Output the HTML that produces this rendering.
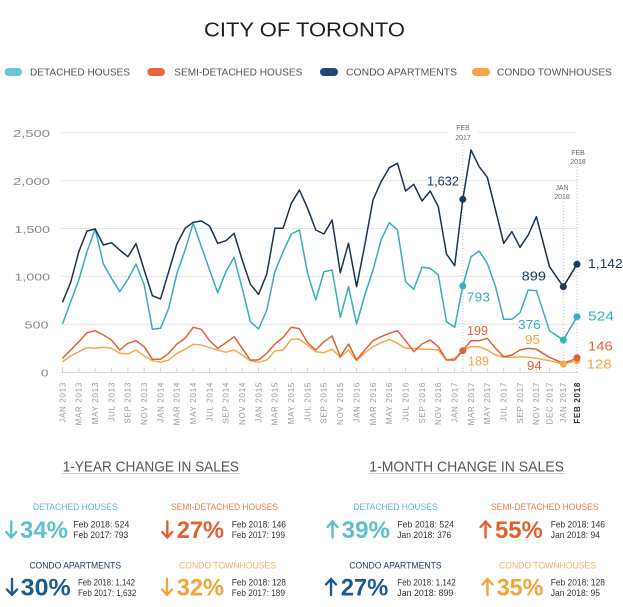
<!DOCTYPE html>
<html><head><meta charset="utf-8"><style>
html,body{margin:0;padding:0;background:#fff;}
svg{display:block;font-family:"Liberation Sans",sans-serif;}
</style></head><body>
<svg width="623" height="607" viewBox="0 0 623 607" xmlns="http://www.w3.org/2000/svg">
<rect width="623" height="607" fill="#fff"/>
<!-- Title -->
<text x="204" y="36.7" font-size="20.5" fill="#1e1e1e" textLength="201" lengthAdjust="spacingAndGlyphs">CITY OF TORONTO</text>
<!-- Legend -->
<rect x="4.5" y="68" width="17.5" height="8" rx="4" fill="#6cc4d4"/>
<text x="30" y="75.5" font-size="10" fill="#555" textLength="100" lengthAdjust="spacingAndGlyphs">DETACHED HOUSES</text>
<rect x="147.3" y="68" width="17.7" height="8" rx="4" fill="#ec6540"/>
<text x="174.3" y="75.5" font-size="10" fill="#555" textLength="128" lengthAdjust="spacingAndGlyphs">SEMI-DETACHED HOUSES</text>
<rect x="320" y="68" width="18" height="8" rx="4" fill="#1d4a73"/>
<text x="346" y="75.5" font-size="10" fill="#555" textLength="111" lengthAdjust="spacingAndGlyphs">CONDO APARTMENTS</text>
<rect x="472" y="68" width="18" height="8" rx="4" fill="#f2a742"/>
<text x="497" y="75.5" font-size="10" fill="#555" textLength="115" lengthAdjust="spacingAndGlyphs">CONDO TOWNHOUSES</text>

<!-- Gridlines -->
<g stroke="#e6e6e6" stroke-width="1">
<line x1="61" y1="132.7" x2="577" y2="132.7"/>
<line x1="61" y1="180.7" x2="577" y2="180.7"/>
<line x1="61" y1="228.5" x2="577" y2="228.5"/>
<line x1="61" y1="276.4" x2="577" y2="276.4"/>
<line x1="61" y1="324.3" x2="577" y2="324.3"/>
</g>
<line x1="61" y1="372.5" x2="578" y2="372.5" stroke="#dcdcdc" stroke-width="1"/>
<!-- Y labels -->
<g font-size="10.5" fill="#8a8a8a" text-anchor="end">
<text x="50" y="137" textLength="37" lengthAdjust="spacingAndGlyphs">2,500</text>
<text x="50" y="185" textLength="37" lengthAdjust="spacingAndGlyphs">2,000</text>
<text x="50" y="232.8" textLength="35.5" lengthAdjust="spacingAndGlyphs">1,500</text>
<text x="50" y="280.7" textLength="35.5" lengthAdjust="spacingAndGlyphs">1,000</text>
<text x="48.5" y="328.5" textLength="24" lengthAdjust="spacingAndGlyphs">500</text>
<text x="48.5" y="376.3" textLength="7.6" lengthAdjust="spacingAndGlyphs">0</text>
</g>

<!-- Ticks -->
<g stroke="#d4d4d4" stroke-width="1">
<line x1="62.5" y1="367.5" x2="62.5" y2="372.5"/><line x1="78.8" y1="367.5" x2="78.8" y2="372.5"/><line x1="95.2" y1="367.5" x2="95.2" y2="372.5"/><line x1="111.5" y1="367.5" x2="111.5" y2="372.5"/><line x1="127.9" y1="367.5" x2="127.9" y2="372.5"/><line x1="144.2" y1="367.5" x2="144.2" y2="372.5"/><line x1="160.5" y1="367.5" x2="160.5" y2="372.5"/><line x1="176.9" y1="367.5" x2="176.9" y2="372.5"/><line x1="193.2" y1="367.5" x2="193.2" y2="372.5"/><line x1="209.6" y1="367.5" x2="209.6" y2="372.5"/><line x1="225.9" y1="367.5" x2="225.9" y2="372.5"/><line x1="242.2" y1="367.5" x2="242.2" y2="372.5"/><line x1="258.6" y1="367.5" x2="258.6" y2="372.5"/><line x1="274.9" y1="367.5" x2="274.9" y2="372.5"/><line x1="291.3" y1="367.5" x2="291.3" y2="372.5"/><line x1="307.6" y1="367.5" x2="307.6" y2="372.5"/><line x1="323.9" y1="367.5" x2="323.9" y2="372.5"/><line x1="340.3" y1="367.5" x2="340.3" y2="372.5"/><line x1="356.6" y1="367.5" x2="356.6" y2="372.5"/><line x1="373" y1="367.5" x2="373" y2="372.5"/><line x1="389.3" y1="367.5" x2="389.3" y2="372.5"/><line x1="405.6" y1="367.5" x2="405.6" y2="372.5"/><line x1="422" y1="367.5" x2="422" y2="372.5"/><line x1="438.3" y1="367.5" x2="438.3" y2="372.5"/><line x1="454.7" y1="367.5" x2="454.7" y2="372.5"/><line x1="471" y1="367.5" x2="471" y2="372.5"/><line x1="487.3" y1="367.5" x2="487.3" y2="372.5"/><line x1="503.7" y1="367.5" x2="503.7" y2="372.5"/><line x1="520" y1="367.5" x2="520" y2="372.5"/><line x1="536.4" y1="367.5" x2="536.4" y2="372.5"/><line x1="549.5" y1="367.5" x2="549.5" y2="372.5"/>
</g>

<!-- Dotted vertical markers -->
<rect x="448" y="122" width="30" height="21" fill="#fff"/>
<g stroke="#bdbdbd" stroke-width="1" stroke-dasharray="1,2">
<line x1="462.8" y1="143" x2="462.8" y2="372"/>
<line x1="563.3" y1="202" x2="563.3" y2="372"/>
<line x1="577" y1="167" x2="577" y2="372"/>
</g>
<g font-size="7" fill="#666" text-anchor="middle">
<text x="463" y="130">FEB</text><text x="463" y="140">2017</text>
<text x="578" y="155">FEB</text><text x="578" y="164">2018</text>
<text x="562" y="190">JAN</text><text x="562" y="199">2018</text>
</g>

<!-- Series -->
<g fill="none" stroke-width="1.5" stroke-linejoin="round">
<polyline stroke="#f2ab4c" points="62.5,361.7 70.7,356 78.8,351.7 87,347.7 95.2,348.3 103.4,347.3 111.5,348.3 119.7,353.3 127.9,354 136,350 144.2,356 152.4,360.7 160.5,362.3 168.7,360 176.9,353.3 185.1,349.3 193.2,344.3 201.4,345 209.6,347.7 217.7,350 225.9,352.3 234.1,350 242.2,355 250.4,360.7 258.6,362.3 266.8,360 274.9,351 283.1,350 291.3,339.3 299.4,339.3 307.6,345.3 315.8,351.7 323.9,352.7 332.1,349.3 340.3,357.3 348.5,350 356.6,360.7 364.8,352.7 373,346.7 381.1,342.7 389.3,339.3 397.5,343.3 405.6,348.3 413.8,348.3 422,349.3 430.2,349.3 438.3,350 446.5,360 454.7,358.3 462.8,350 471,346.7 479.2,346.7 487.3,350 495.5,355 503.7,357.3 511.9,357.3 520,356.7 528.2,357.3 536.4,358.3 549.5,360.7 563.3,364 577,360.7"/>
<polyline stroke="#e0603a" points="62.5,358.3 70.7,350 78.8,341.7 87,332.7 95.2,330.7 103.4,335 111.5,340 119.7,350 127.9,343.3 136,340.7 144.2,346.7 152.4,359.3 160.5,359.3 168.7,353.3 176.9,344 185.1,338.3 193.2,327.3 201.4,329.3 209.6,340.7 217.7,348.3 225.9,342.7 234.1,336.7 242.2,348.3 250.4,360 258.6,360 266.8,353.3 274.9,344 283.1,337.3 291.3,327.3 299.4,328.7 307.6,342.7 315.8,350 323.9,341.7 332.1,336 340.3,356.7 348.5,344 356.6,360 364.8,350 373,340.7 381.1,336.7 389.3,333.3 397.5,330.7 405.6,340.7 413.8,351.7 422,344 430.2,340 438.3,346.7 446.5,360 454.7,360 462.8,350.7 471,340.7 479.2,340.7 487.3,338.3 495.5,348.3 503.7,356.7 511.9,355 520,350 528.2,348.3 536.4,349.3 549.5,357.3 563.3,363.3 577,358.3"/>
<polyline stroke="#36adbb" points="62.5,324 70.7,301.7 78.8,280 87,251.7 95.2,229 103.4,264 111.5,278.3 119.7,291.7 127.9,279.3 136,264 144.2,285 152.4,329.3 160.5,328.3 168.7,308.3 176.9,273.3 185.1,250 193.2,223.3 201.4,246.7 209.6,270 217.7,292.7 225.9,271.7 234.1,257.3 242.2,288.3 250.4,321.7 258.6,329 266.8,310 274.9,271.7 283.1,251.7 291.3,234 299.4,230 307.6,273.3 315.8,300 323.9,271.7 332.1,270 340.3,317.3 348.5,286.7 356.6,324 364.8,295 373,270 381.1,240 389.3,222.7 397.5,230 405.6,281.7 413.8,289.3 422,267.3 430.2,268.3 438.3,275 446.5,321.7 454.7,327.3 462.8,286 471,256.7 479.2,251 487.3,263.3 495.5,286.7 503.7,319.3 511.9,319.3 520,312.7 528.2,290 536.4,290.7 549.5,330.7 563.3,340 577,316.7"/>
<polyline stroke="#1a3350" points="62.5,302.3 70.7,282.3 78.8,251.7 87,231 95.2,229 103.4,245 111.5,242.7 119.7,250 127.9,256.7 136,243.7 144.2,270 152.4,295.7 160.5,299 168.7,271.7 176.9,244 185.1,228.3 193.2,222.3 201.4,221 209.6,226 217.7,243.3 225.9,240.7 234.1,233.3 242.2,260 250.4,284.3 258.6,294.3 266.8,274 274.9,228.3 283.1,228.3 291.3,203.3 299.4,190 307.6,208.3 315.8,230 323.9,234 332.1,220 340.3,272.7 348.5,243.3 356.6,286.7 364.8,245 373,200 381.1,181.7 389.3,167.7 397.5,163.3 405.6,191 413.8,184.3 422,201 430.2,191 438.3,206.7 446.5,254 454.7,265.7 462.8,199.3 471,150 479.2,166.7 487.3,177.3 495.5,210 503.7,243.3 511.9,231.7 520,247.3 528.2,235 536.4,216.7 549.5,266.7 563.3,286.7 577,264.3"/>
</g>
<!-- Dots -->
<g>
<circle cx="462.8" cy="199.3" r="3.5" fill="#1b3a5c"/>
<circle cx="563.3" cy="286.7" r="3.5" fill="#1b3a5c"/>
<circle cx="577" cy="264.3" r="3.5" fill="#1b3a5c"/>
<circle cx="462.8" cy="286" r="3.5" fill="#36b3c0"/>
<circle cx="563.3" cy="340" r="3.5" fill="#36b3c0"/>
<circle cx="577" cy="316.7" r="3.5" fill="#36b3c0"/>
<circle cx="462.8" cy="350.7" r="3.5" fill="#e2603a"/>
<circle cx="577" cy="361" r="3.2" fill="#f2ab4c"/>
<circle cx="577" cy="357.8" r="3.5" fill="#e2603a"/>
<circle cx="563.3" cy="364" r="3.5" fill="#f2ab4c"/>
</g>
<!-- Value labels -->
<g font-size="12.5">
<text x="427" y="185.5" fill="#1d3a5a" textLength="32" lengthAdjust="spacingAndGlyphs">1,632</text>
<text x="466.7" y="301.7" fill="#36adbb" textLength="23.3" lengthAdjust="spacingAndGlyphs">793</text>
<text x="521.7" y="280.7" fill="#1d3a5a" textLength="24.3" lengthAdjust="spacingAndGlyphs">899</text>
<text x="588" y="268" fill="#1d3a5a" textLength="34.7" lengthAdjust="spacingAndGlyphs">1,142</text>
<text x="588" y="320.7" fill="#36adbb" textLength="26" lengthAdjust="spacingAndGlyphs">524</text>
<text x="518" y="329" fill="#36adbb" textLength="22.7" lengthAdjust="spacingAndGlyphs">376</text>
<text x="467" y="335" fill="#e2603a" textLength="21" lengthAdjust="spacingAndGlyphs">199</text>
<text x="525" y="344" fill="#f0a540" textLength="15" lengthAdjust="spacingAndGlyphs">95</text>
<text x="588" y="350.7" fill="#e2603a" textLength="24.7" lengthAdjust="spacingAndGlyphs">146</text>
<text x="468" y="365.7" fill="#f0a540" textLength="21" lengthAdjust="spacingAndGlyphs">189</text>
<text x="527" y="370" fill="#e2603a" textLength="14.7" lengthAdjust="spacingAndGlyphs">94</text>
<text x="586.7" y="368.7" fill="#f0a540" textLength="25" lengthAdjust="spacingAndGlyphs">128</text>
</g>

<!-- X labels -->
<g font-size="8" fill="#9a9a9a" text-anchor="end" letter-spacing="0.7">
<text transform="translate(65.3,382) rotate(-90)">JAN 2013</text>
<text transform="translate(81.6,382) rotate(-90)">MAR 2013</text>
<text transform="translate(98,382) rotate(-90)">MAY 2013</text>
<text transform="translate(114.3,382) rotate(-90)">JUL 2013</text>
<text transform="translate(130.7,382) rotate(-90)">SEP 2013</text>
<text transform="translate(147,382) rotate(-90)">NOV 2013</text>
<text transform="translate(163.3,382) rotate(-90)">JAN 2014</text>
<text transform="translate(179.7,382) rotate(-90)">MAR 2014</text>
<text transform="translate(196,382) rotate(-90)">MAY 2014</text>
<text transform="translate(212.4,382) rotate(-90)">JUL 2014</text>
<text transform="translate(228.7,382) rotate(-90)">SEP 2014</text>
<text transform="translate(245,382) rotate(-90)">NOV 2014</text>
<text transform="translate(261.4,382) rotate(-90)">JAN 2015</text>
<text transform="translate(277.7,382) rotate(-90)">MAR 2015</text>
<text transform="translate(294.1,382) rotate(-90)">MAY 2015</text>
<text transform="translate(310.4,382) rotate(-90)">JUL 2015</text>
<text transform="translate(326.7,382) rotate(-90)">SEP 2015</text>
<text transform="translate(343.1,382) rotate(-90)">NOV 2015</text>
<text transform="translate(359.4,382) rotate(-90)">JAN 2016</text>
<text transform="translate(375.8,382) rotate(-90)">MAR 2016</text>
<text transform="translate(392.1,382) rotate(-90)">MAY 2016</text>
<text transform="translate(408.4,382) rotate(-90)">JUL 2016</text>
<text transform="translate(424.8,382) rotate(-90)">SEP 2016</text>
<text transform="translate(441.1,382) rotate(-90)">NOV 2016</text>
<text transform="translate(457.5,382) rotate(-90)">JAN 2017</text>
<text transform="translate(473.8,382) rotate(-90)">MAR 2017</text>
<text transform="translate(490.1,382) rotate(-90)">MAY 2017</text>
<text transform="translate(506.5,382) rotate(-90)">JUL 2017</text>
<text transform="translate(522.8,382) rotate(-90)">SEP 2017</text>
<text transform="translate(539.2,382) rotate(-90)">NOV 2017</text>
<text transform="translate(552.3,382) rotate(-90)">DEC 2017</text>
<text transform="translate(566.1,382) rotate(-90)">JAN 2017</text>
<text transform="translate(579.8,382) rotate(-90)" font-weight="bold" fill="#333">FEB 2018</text>
</g>

<!-- Section headings -->
<text x="62.7" y="471.5" font-size="15" fill="#555" textLength="176.3" lengthAdjust="spacingAndGlyphs">1-YEAR CHANGE IN SALES</text>
<line x1="62" y1="473.5" x2="239.5" y2="473.5" stroke="#cfcfcf" stroke-width="1"/>
<text x="369.3" y="471.5" font-size="15" fill="#555" textLength="194.7" lengthAdjust="spacingAndGlyphs">1-MONTH CHANGE IN SALES</text>
<line x1="369" y1="473.5" x2="564.5" y2="473.5" stroke="#cfcfcf" stroke-width="1"/>

<!-- Category titles -->
<g font-size="9.5" text-anchor="middle">
<text x="75.3" y="510" fill="#5bbccb" textLength="84.7" lengthAdjust="spacingAndGlyphs">DETACHED HOUSES</text>
<text x="224.5" y="510" fill="#ec7a55" textLength="107" lengthAdjust="spacingAndGlyphs">SEMI-DETACHED HOUSES</text>
<text x="75.2" y="568.3" fill="#1d3b5c" textLength="91.7" lengthAdjust="spacingAndGlyphs">CONDO APARTMENTS</text>
<text x="227.5" y="568.3" fill="#f3b46a" textLength="97" lengthAdjust="spacingAndGlyphs">CONDO TOWNHOUSES</text>
<text x="395.5" y="510" fill="#5bbccb" textLength="84.4" lengthAdjust="spacingAndGlyphs">DETACHED HOUSES</text>
<text x="544.7" y="510" fill="#ec7a55" textLength="107.3" lengthAdjust="spacingAndGlyphs">SEMI-DETACHED HOUSES</text>
<text x="395.5" y="568.3" fill="#1d3b5c" textLength="92.4" lengthAdjust="spacingAndGlyphs">CONDO APARTMENTS</text>
<text x="547.5" y="568.3" fill="#f3b46a" textLength="97" lengthAdjust="spacingAndGlyphs">CONDO TOWNHOUSES</text>
</g>

<!-- Arrows -->
<g fill="none" stroke-width="2.4" stroke-linecap="round" stroke-linejoin="round">
<g stroke="#5dc0cc"><path d="M11.3 521.5 V537.5 M6.3 532 L11.3 537.5 L16.3 532"/></g>
<g stroke="#e4602f"><path d="M167.3 521.5 V537.5 M162.3 532 L167.3 537.5 L172.3 532"/></g>
<g stroke="#1e5a8c"><path d="M12 579 V595 M7 589.5 L12 595 L17 589.5"/></g>
<g stroke="#f3a53a"><path d="M167 579 V595 M162 589.5 L167 595 L172 589.5"/></g>
<g stroke="#5dc0cc"><path d="M332.5 537.5 V521.5 M327.5 527 L332.5 521.5 L337.5 527"/></g>
<g stroke="#e4602f"><path d="M485.5 537.5 V521.5 M480.5 527 L485.5 521.5 L490.5 527"/></g>
<g stroke="#1e5a8c"><path d="M331 595 V579 M326 584.5 L331 579 L336 584.5"/></g>
<g stroke="#f3a53a"><path d="M487.5 595 V579 M482.5 584.5 L487.5 579 L492.5 584.5"/></g>
</g>

<!-- Percentages -->
<g font-size="24" font-weight="bold">
<text x="20" y="538" fill="#5dc0cc" textLength="48" lengthAdjust="spacingAndGlyphs">34%</text>
<text x="176.7" y="538" fill="#e4602f" textLength="47.3" lengthAdjust="spacingAndGlyphs">27%</text>
<text x="20.7" y="595.5" fill="#1e5a8c" textLength="50" lengthAdjust="spacingAndGlyphs">30%</text>
<text x="176.7" y="595.5" fill="#f3a53a" textLength="47.3" lengthAdjust="spacingAndGlyphs">32%</text>
<text x="341.7" y="538" fill="#5dc0cc" textLength="48.3" lengthAdjust="spacingAndGlyphs">39%</text>
<text x="495" y="538" fill="#e4602f" textLength="47.7" lengthAdjust="spacingAndGlyphs">55%</text>
<text x="340.7" y="595.5" fill="#1e5a8c" textLength="47.6" lengthAdjust="spacingAndGlyphs">27%</text>
<text x="496.7" y="595.5" fill="#f3a53a" textLength="46.6" lengthAdjust="spacingAndGlyphs">35%</text>
</g>

<!-- Detail values -->
<g font-size="9.5" fill="#333">
<text x="73.3" y="527.5" textLength="56" lengthAdjust="spacingAndGlyphs">Feb 2018: 524</text>
<text x="73.3" y="538" textLength="55" lengthAdjust="spacingAndGlyphs">Feb 2017: 793</text>
<text x="231.7" y="527.5" textLength="54.3" lengthAdjust="spacingAndGlyphs">Feb 2018: 146</text>
<text x="231.7" y="538" textLength="53.3" lengthAdjust="spacingAndGlyphs">Feb 2017: 199</text>
<text x="78" y="585.3" textLength="57" lengthAdjust="spacingAndGlyphs">Feb 2018: 1,142</text>
<text x="78" y="595.8" textLength="58.3" lengthAdjust="spacingAndGlyphs">Feb 2017: 1,632</text>
<text x="231.7" y="585.3" textLength="54.3" lengthAdjust="spacingAndGlyphs">Feb 2018: 128</text>
<text x="231.7" y="595.8" textLength="53.3" lengthAdjust="spacingAndGlyphs">Feb 2017: 189</text>
<text x="397.3" y="527.5" textLength="56.7" lengthAdjust="spacingAndGlyphs">Feb 2018: 524</text>
<text x="397.3" y="538" textLength="54" lengthAdjust="spacingAndGlyphs">Jan 2018: 376</text>
<text x="550.7" y="527.5" textLength="54.3" lengthAdjust="spacingAndGlyphs">Feb 2018: 146</text>
<text x="550.7" y="538" textLength="49.3" lengthAdjust="spacingAndGlyphs">Jan 2018: 94</text>
<text x="397.3" y="585.3" textLength="58.4" lengthAdjust="spacingAndGlyphs">Feb 2018: 1,142</text>
<text x="397.3" y="595.8" textLength="56" lengthAdjust="spacingAndGlyphs">Jan 2018: 899</text>
<text x="550.7" y="585.3" textLength="54.3" lengthAdjust="spacingAndGlyphs">Feb 2018: 128</text>
<text x="550.7" y="595.8" textLength="49.3" lengthAdjust="spacingAndGlyphs">Jan 2018: 95</text>
</g>
</svg>
</body></html>
